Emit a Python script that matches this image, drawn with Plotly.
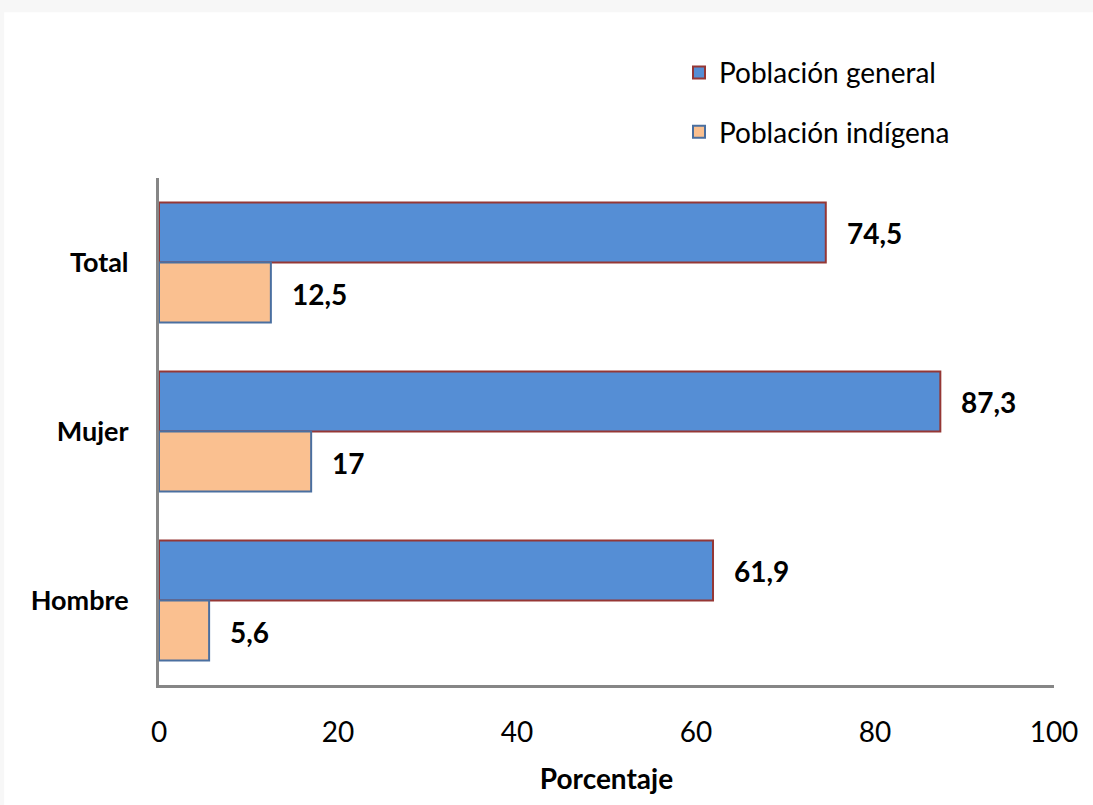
import plotly.graph_objects as go

categories = ["Total", "Mujer", "Hombre"]
general = [74.5, 87.3, 61.9]
indigena = [12.5, 17, 5.6]
series_names = ["Población general", "Población indígena"]
x_ticks = [0, 20, 40, 60, 80, 100]


def fmt(v):
    return f"{v:g}".replace(".", ",")


FONT = "Lato, 'Open Sans', sans-serif"
SIZE = 28

fig = go.Figure()
fig.add_trace(go.Bar(
    name=series_names[0], y=categories, x=general, orientation="h",
    legendgroup="g",
    marker=dict(color="#558ed5", line=dict(color="#953735", width=2)),
))
fig.add_trace(go.Bar(
    name=series_names[1], y=categories, x=indigena, orientation="h",
    legendgroup="i",
    marker=dict(color="#fac090", line=dict(color="#4a6fa0", width=2)),
))

# value labels to the right of each bar (blue bar sits above the orange one)
annotations = []
for series, shift in ((general, 30), (indigena, -31)):
    for cat, v in zip(categories, series):
        annotations.append(dict(
            x=v, y=cat, xref="x", yref="y", text=fmt(v), showarrow=False,
            xanchor="left", yanchor="middle", xshift=19, yshift=shift,
            font=dict(family=FONT, size=SIZE, color="#000000", weight="bold"),
        ))

fig.update_layout(
    width=1093, height=805,
    margin=dict(l=159, r=39, t=178, b=120),
    paper_bgcolor="#f7f7f7", plot_bgcolor="rgba(0,0,0,0)",
    barmode="group", bargap=0.29, bargroupgap=0,
    font=dict(family=FONT, color="#000000"),
    showlegend=True,
    legend=dict(
        x=0.581, y=1.257, xanchor="left", yanchor="top",
        font=dict(family=FONT, size=SIZE, color="#000000"),
        bgcolor="rgba(0,0,0,0)", traceorder="grouped", tracegroupgap=20,
        itemwidth=30,
    ),
    xaxis=dict(
        range=[0, 100], tickvals=x_ticks, ticktext=[str(t) for t in x_ticks],
        showgrid=False, zeroline=False, showline=True, linecolor="#868686", linewidth=3,
        ticks="", ticklabelstandoff=20,
        tickfont=dict(family=FONT, size=SIZE, color="#000000"),
        title=dict(text="Porcentaje", standoff=23,
                   font=dict(family=FONT, size=SIZE, color="#000000", weight="bold")),
    ),
    yaxis=dict(
        autorange="reversed", showgrid=False, zeroline=False,
        showline=True, linecolor="#868686", linewidth=3,
        ticks="", ticklabelstandoff=22,
        tickfont=dict(family=FONT, size=27, color="#000000", weight="bold"),
    ),
    annotations=annotations,
    shapes=[dict(
        type="rect", xref="paper", yref="paper", layer="below",
        x0=-0.173, x1=1.05, y0=-0.25, y1=1.3268,
        fillcolor="#ffffff", line=dict(width=0),
    )],
)

fig.write_html("out.html")
